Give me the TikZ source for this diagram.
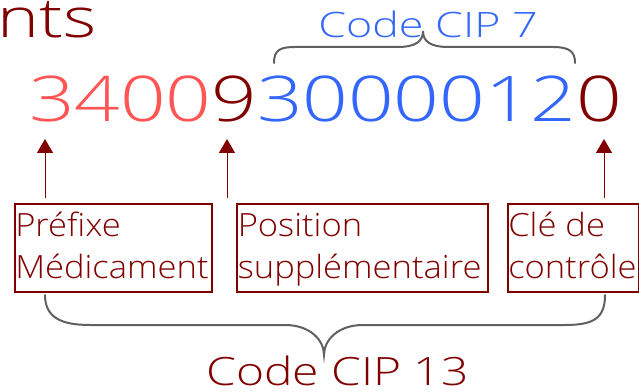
\documentclass[tikz,border=0pt]{standalone}
\usepackage{fontspec}
\setmainfont{Open Sans Light}
\usetikzlibrary{arrows.meta}
\newcommand\hsc[2]{\scalebox{#1}[1]{#2}}
\definecolor{dred}{RGB}{128,0,0}
\definecolor{lred}{RGB}{255,85,85}
\definecolor{cblue}{RGB}{51,102,255}
\definecolor{bgray}{RGB}{96,96,96}
\begin{document}
\begin{tikzpicture}[x=0.75pt,y=-0.75pt,
  digit/.style={anchor=base,inner sep=0pt,font=\fontsize{47.25}{47.25}\selectfont},
  btxt/.style={anchor=base west,inner sep=0pt,text=dred,font=\fontsize{24}{24}\selectfont},
  cbox/.style={draw=dred,line width=1.5pt,inner sep=0pt,anchor=north west},
  arr/.style={draw=dred,line width=0.75pt,-{Triangle[width=12pt,length=10.5pt]}},
  brc/.style={draw=bgray,line width=1.5pt,line cap=round}]
\useasboundingbox (0,0) rectangle (639,392);
% title fragment
\node[anchor=base west,inner sep=0pt,text=dred,font=\fontsize{41}{41}\selectfont] (nts) at (-3,38) {\hsc{1.3}{nts}};
% Code CIP 7
\node[anchor=base,inner sep=0pt,text=cblue,font=\fontsize{26.25}{26.25}\selectfont] (cip7) at (428,38) {\hsc{1.28}{Code CIP 7}};
% digits
\foreach \d/\c [count=\i from 0] in {3/lred,4/lred,0/lred,0/lred,9/dred,3/cblue,0/cblue,0/cblue,0/cblue,0/cblue,1/cblue,2/cblue,0/dred}
  \node[digit,text=\c] (d\i) at ({52+45.6*\i},122) {\hsc{1.27}{\d}};
% top brace
\draw[brc] (274,63) .. controls (274,50) and (280,47) .. (295,47) -- (397,47)
  .. controls (415,47) and (423,42) .. (423,31)
  .. controls (423,42) and (431,47) .. (449,47) -- (553,47)
  .. controls (570,47) and (575,52) .. (575,63);
% boxes
\node[cbox,minimum width=147.75pt,minimum height=66pt] (b1) at (14,203) {};
\node[cbox,minimum width=188.25pt,minimum height=66pt] (b2) at (236,203) {};
\node[cbox,minimum width=98.25pt,minimum height=66pt] (b3) at (507,203) {};
\node[btxt] (t1a) at (15,237) {\hsc{1.08}{Préfixe}};
\node[btxt] (t1b) at (15,278) {\hsc{1.08}{Médicament}};
\node[btxt] (t2a) at (237.5,237) {\hsc{1.08}{Position}};
\node[btxt] (t2b) at (237.5,278) {\hsc{1.08}{supplémentaire}};
\node[btxt] (t3a) at (508,237) {\hsc{1.08}{Clé de}};
\node[btxt] (t3b) at (508,278) {\hsc{1.08}{contrôle}};
% arrows
\coordinate (s1) at (45,198); \coordinate (e1) at (45,139);
\coordinate (s2) at (227,198); \coordinate (e2) at (227,139);
\coordinate (s3) at (604,198); \coordinate (e3) at (604,139);
\draw[arr] (s1) -- (e1);
\draw[arr] (s2) -- (e2);
\draw[arr] (s3) -- (e3);
% bottom brace
\draw[brc] (45,295) .. controls (45,318) and (62,325) .. (90,325) -- (285,325)
  .. controls (310,325) and (324,340) .. (324,355)
  .. controls (324,340) and (338,325) .. (363,325) -- (565,325)
  .. controls (594,325) and (605,318) .. (605,295);
% Code CIP 13
\node[anchor=base,inner sep=0pt,text=dred,font=\fontsize{29.25}{29.25}\selectfont] (cip13) at (337.5,385) {\hsc{1.23}{Code CIP 13}};
\end{tikzpicture}
\end{document}
